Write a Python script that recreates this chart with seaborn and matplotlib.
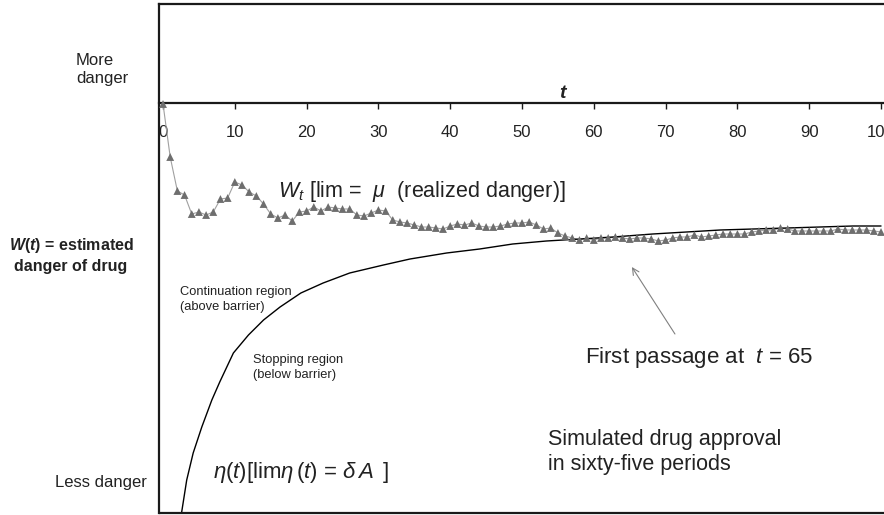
import matplotlib
matplotlib.use('Agg')
import matplotlib.pyplot as plt
import seaborn as sns

# Simulated drug approval: estimated danger W(t) vs. stopping barrier eta(t)
t_vals = list(range(101))
w_vals = [40.9, 35.6, 32.2, 31.8, 29.9, 30.1, 29.8, 30.1, 31.4, 31.5,
          33.1, 32.8, 32.1, 31.7, 30.9, 29.9, 29.5, 29.8, 29.2, 30.1,
          30.2, 30.6, 30.2, 30.6, 30.5, 30.4, 30.4, 29.8, 29.7, 30.0,
          30.3, 30.2, 29.3, 29.1, 29.0, 28.8, 28.6, 28.6, 28.5, 28.4,
          28.7, 28.9, 28.8, 29.0, 28.7, 28.6, 28.6, 28.7, 28.9, 29.0,
          29.0, 29.1, 28.8, 28.4, 28.5, 28.0, 27.7, 27.5, 27.3, 27.5,
          27.3, 27.5, 27.5, 27.6, 27.5, 27.4, 27.5, 27.5, 27.4, 27.2,
          27.3, 27.5, 27.6, 27.6, 27.8, 27.6, 27.7, 27.8, 27.9, 27.9,
          27.9, 27.9, 28.1, 28.2, 28.3, 28.3, 28.5, 28.4, 28.2, 28.2,
          28.2, 28.2, 28.2, 28.2, 28.4, 28.3, 28.3, 28.3, 28.3, 28.2,
          28.1]

barrier_t = [2.6, 3.3, 4.2, 5.4, 6.8, 7.9, 9.8, 11.9, 14.0, 16.3, 19.2,
             22.3, 26.0, 30.7, 34.4, 39.5, 44.1, 48.7, 53.4, 58.1, 62.7,
             68.2, 72.9, 77.6, 82.2, 86.9, 96.1, 100.0]
barrier_v = [0.1, 3.3, 6.0, 8.6, 11.3, 13.1, 16.0, 17.8, 19.3, 20.6, 22.0,
             23.0, 24.0, 24.8, 25.4, 26.0, 26.4, 26.9, 27.2, 27.4, 27.6,
             27.9, 28.1, 28.3, 28.4, 28.5, 28.7, 28.7]

x_ticks = [0, 10, 20, 30, 40, 50, 60, 70, 80, 90, 100]
t_axis_level = 41.0

sns.set_theme(style='white')
plt.rcParams['font.family'] = ['Liberation Sans', 'DejaVu Sans']
plt.rcParams['mathtext.fontset'] = 'custom'
plt.rcParams['mathtext.rm'] = 'Liberation Sans'
plt.rcParams['mathtext.it'] = 'Liberation Sans:italic'
plt.rcParams['mathtext.bf'] = 'Liberation Sans:bold:italic'

fig = plt.figure(figsize=(8.84, 5.15), dpi=100)
ax = fig.add_axes([159 / 884, 2 / 515, 731 / 884, 509 / 515])

# W_t path (light line + grey triangles)
sns.lineplot(x=t_vals, y=w_vals, color='#a0a0a0', linewidth=0.8, ax=ax)
sns.scatterplot(x=t_vals, y=w_vals, marker='^', s=32, color='#6e6e6e',
                edgecolor='none', ax=ax, zorder=3)

# barrier eta(t)
sns.lineplot(x=barrier_t, y=barrier_v, color='black', linewidth=1.0, ax=ax)

ax.set_xlim(-0.56, 101.25)
ax.set_ylim(0, 50.9)

frame_col = '#1a1a1a'
for side in ['left', 'top']:
    ax.spines[side].set_color(frame_col)
    ax.spines[side].set_linewidth(1.6)
ax.spines['right'].set_visible(False)
ax.spines['bottom'].set_position(('data', t_axis_level))
ax.spines['bottom'].set_color(frame_col)
ax.spines['bottom'].set_linewidth(1.6)
ax.plot([0, 1], [0, 0], transform=ax.transAxes, color=frame_col,
        linewidth=1.6, clip_on=False)

ax.set_xticks(x_ticks)
ax.set_xticklabels([str(v) for v in x_ticks])
ax.set_yticks([])
ax.tick_params(axis='x', bottom=True, direction='out', length=4, width=1,
               color=frame_col, pad=11.5, labelsize=12, labelcolor='#222222')
ax.set_xlabel('')
ax.set_ylabel('')

ax.text(55.6, 41.5, 't', fontsize=14, fontstyle='italic', fontweight='bold',
        ha='center', va='baseline', color='#222222')

# annotations inside the plot (multi-line texts: baseline of last line)
txt_col = '#222222'
ax.text(16.0, 31.6, r'$W_t$ [lim =  $\mu$  (realized danger)]', fontsize=15.5,
        va='baseline', color=txt_col)
ax.text(2.4, 20.3, 'Continuation region\n(above barrier)', fontsize=9.3,
        va='baseline', color=txt_col, linespacing=1.35)
ax.text(12.5, 13.5, 'Stopping region\n(below barrier)', fontsize=9.3,
        va='baseline', color=txt_col, linespacing=1.35)
ax.text(58.8, 15.0, r'First passage at  $t$ = 65', fontsize=16,
        va='baseline', color=txt_col)
ax.text(53.6, 4.3, 'Simulated drug approval\nin sixty-five periods',
        fontsize=15.5, va='baseline', color=txt_col, linespacing=1.25)
ax.text(7.0, 3.5, r'$\eta(t)$[lim$\eta\,(t)$ = $\delta\,A\,$ ]', fontsize=16,
        va='baseline', color=txt_col)
ax.annotate('', xy=(65.3, 24.6), xytext=(71.3, 17.9),
            arrowprops=dict(arrowstyle='->', color='#808080', lw=0.8,
                            shrinkA=0, shrinkB=0))

# labels left of the frame
fig.text(76 / 884, 1 - 83 / 515, 'More\ndanger', fontsize=12, ha='left',
         va='baseline', color=txt_col, linespacing=1.25)
fig.text(71 / 884, 1 - 271 / 515, r'$\mathbf{W}$($\mathbf{t}$) = estimated'
         '\ndanger of drug', fontsize=11.5, fontweight='bold', ha='center',
         va='baseline', color=txt_col, linespacing=1.3, multialignment='center')
fig.text(55 / 884, 1 - 487 / 515, 'Less danger', fontsize=12, ha='left',
         va='baseline', color=txt_col)

fig.savefig('out.png', dpi=100)
